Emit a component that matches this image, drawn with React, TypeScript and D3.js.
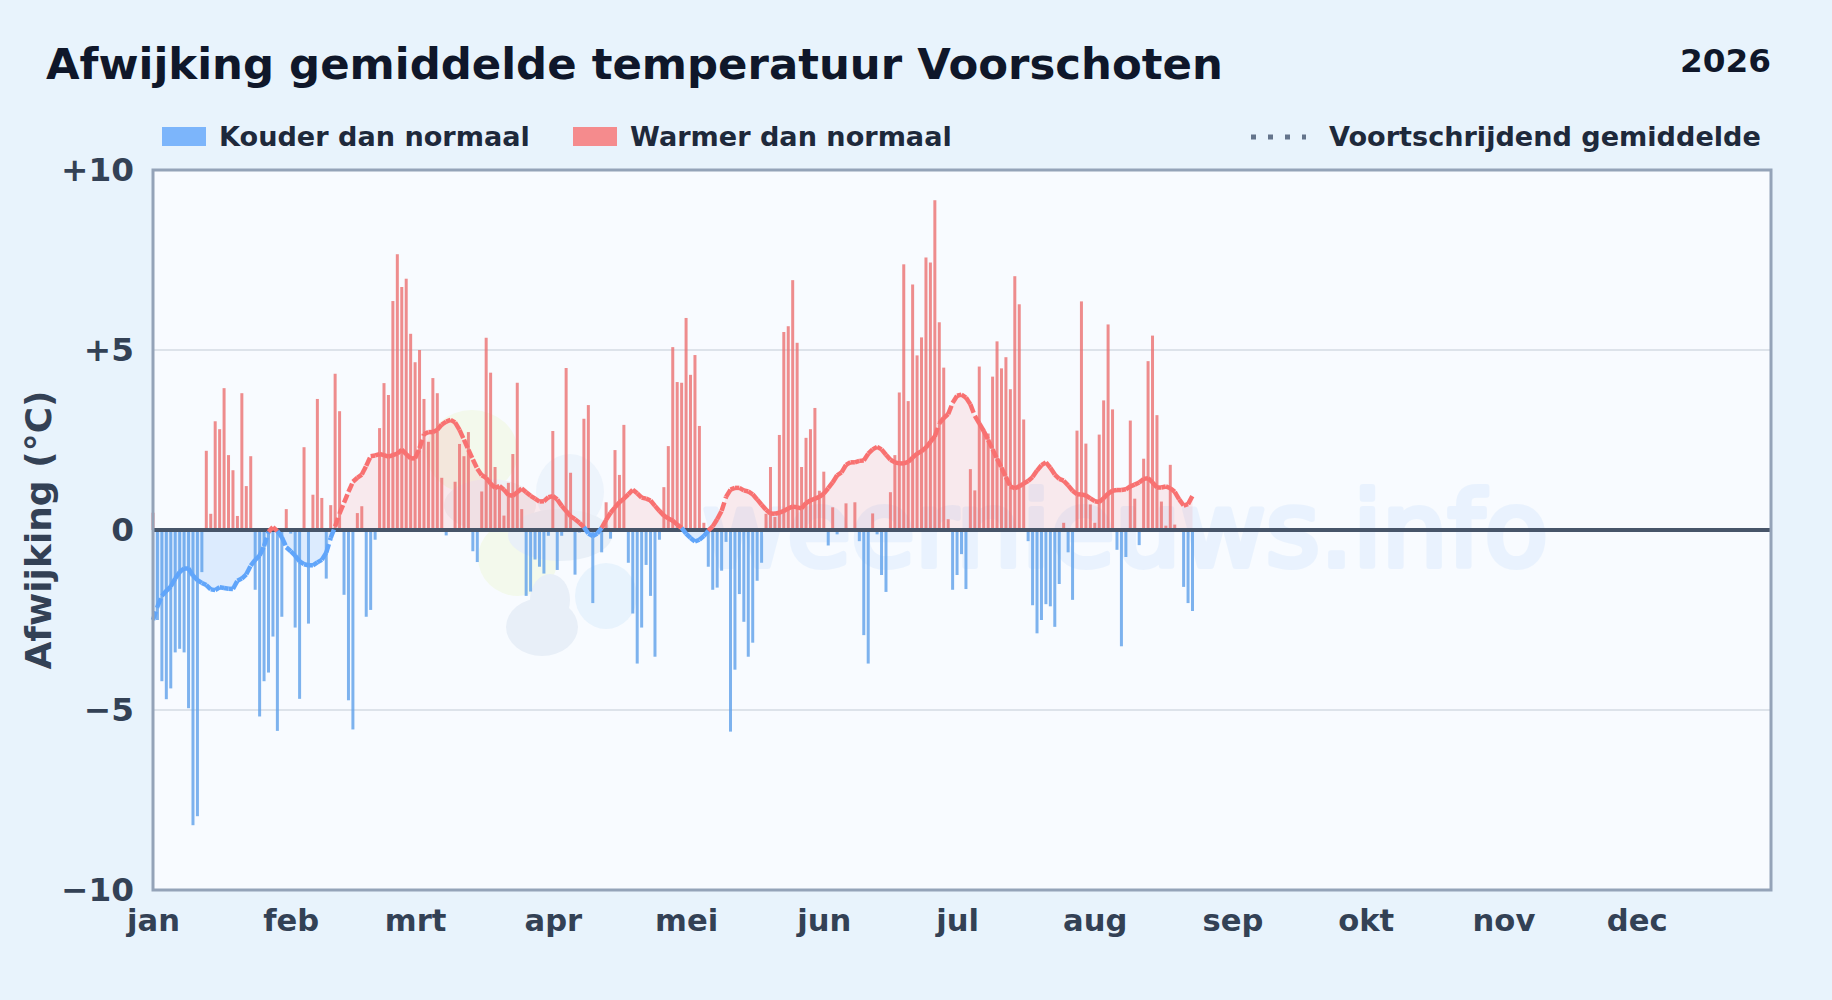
import React, { useEffect, useRef } from "react";
import * as d3 from "d3";

const monthLabels = ["jan", "feb", "mrt", "apr", "mei", "jun", "jul", "aug", "sep", "okt", "nov", "dec"];
const monthStarts = [0, 31, 59, 90, 120, 151, 181, 212, 243, 273, 304, 334];
const yTicks = [-10, -5, 0, 5, 10];

// daily anomaly in degrees, one value per day from 1 jan (0 = no bar)
const dailyAnomaly = [
  0.48, -2.5, -4.2, -4.7, -4.4, -3.4, -3.3, -3.4, -4.95, -8.2,
  -7.95, -1.17, 2.2, 0.45, 3.02, 2.8, 3.94, 2.08, 1.66, 0.39,
  3.8, 1.22, 2.05, -1.66, -5.18, -4.2, -3.96, -2.96, -5.58, -2.41,
  0.58, -0.1, -2.71, -4.69, 2.3, -2.6, 0.98, 3.64, 0.89, -1.35,
  0.69, 4.34, 3.3, -1.8, -4.73, -5.54, 0.47, 0.66, -2.41, -2.22,
  -0.27, 2.83, 4.08, 3.75, 6.36, 7.66, 6.75, 6.98, 5.45, 4.66,
  5.0, 3.64, 2.45, 4.22, 3.8, 1.45, -0.15, 0, 1.34, 2.39,
  2.05, 2.72, -0.59, -0.89, 1.07, 5.34, 4.37, 1.75, 1.22, 0.4,
  1.31, 2.11, 4.09, 0.58, -1.83, -1.71, -0.82, -1.02, -1.21, -0.16,
  2.75, -1.11, -0.16, 4.5, 1.59, -1.24, -0.07, 3.09, 3.47, -2.03,
  0, -0.62, 0.77, -0.24, 2.22, 1.53, 2.92, -0.91, -2.32, -3.71,
  -2.71, -0.97, -1.83, -3.52, -0.27, 1.19, 2.33, 5.08, 4.11, 4.09,
  5.89, 4.31, 4.86, 2.89, 0.2, -1.02, -1.66, -1.6, -1.13, -0.33,
  -5.6, -3.88, -1.78, -2.55, -3.52, -3.13, -1.41, -0.91, 0.45, 1.75,
  0.36, 2.64, 5.5, 5.66, 6.94, 5.2, 1.75, 2.56, 2.8, 3.39,
  1.09, 1.62, -0.43, 0.63, -0.12, 0, 0.74, 0, 0.77, -0.31,
  -2.92, -3.71, 0.46, -0.12, -1.25, -1.72, 1.05, 2.08, 3.82, 7.38,
  3.58, 6.82, 4.85, 5.35, 7.57, 7.43, 9.16, 5.77, 4.51, 0.3,
  -1.66, -1.25, -0.67, -1.64, 1.69, 1.1, 4.54, 2.81, 2.68, 4.26,
  5.24, 4.49, 4.8, 3.91, 7.05, 6.27, 3.07, -0.31, -2.09, -2.87,
  -2.5, -2.06, -2.12, -2.69, -1.5, 0.2, -0.62, -1.94, 2.76, 6.35,
  2.4, 0.71, 0.2, 2.65, 3.6, 5.71, 3.35, -0.55, -3.23, -0.75,
  3.04, 0.87, -0.42, 1.98, 4.69, 5.4, 3.19, 0.79, 0.12, 1.81,
  0.15, 0, -1.58, -2.03, -2.25,
];

// rolling mean, same days as dailyAnomaly
const rollingMean = [
  -2.5, -2.13, -1.83, -1.69, -1.57, -1.35, -1.17, -1.07, -1.07, -1.27,
  -1.39, -1.47, -1.53, -1.65, -1.67, -1.59, -1.61, -1.63, -1.64, -1.41,
  -1.35, -1.23, -0.99, -0.83, -0.71, -0.45, -0.05, 0.08, -0.03, -0.2,
  -0.48, -0.59, -0.71, -0.87, -0.95, -0.98, -0.98, -0.9, -0.83, -0.63,
  -0.22, 0.1, 0.46, 0.76, 1.06, 1.34, 1.45, 1.54, 1.78, 2.05,
  2.07, 2.11, 2.08, 2.04, 2.08, 2.12, 2.23, 2.11, 1.99, 1.99,
  2.27, 2.66, 2.72, 2.72, 2.78, 2.93, 3.01, 3.06, 2.99, 2.78,
  2.51, 2.23, 1.96, 1.7, 1.52, 1.45, 1.29, 1.17, 1.22, 1.12,
  0.97, 0.95, 1.05, 1.15, 1.05, 0.95, 0.87, 0.79, 0.8, 0.91,
  0.94, 0.85, 0.67, 0.53, 0.38, 0.3, 0.2, 0.08, -0.1, -0.17,
  -0.1, 0.06, 0.28, 0.48, 0.63, 0.77, 0.87, 0.99, 1.12, 1.02,
  0.9, 0.87, 0.82, 0.67, 0.53, 0.4, 0.32, 0.26, 0.15, 0.06,
  -0.1, -0.22, -0.32, -0.27, -0.17, -0.02, 0.1, 0.3, 0.53, 0.92,
  1.12, 1.17, 1.17, 1.1, 1.07, 0.99, 0.85, 0.7, 0.56, 0.46,
  0.45, 0.48, 0.53, 0.6, 0.65, 0.63, 0.6, 0.75, 0.82, 0.87,
  0.92, 1.01, 1.16, 1.32, 1.52, 1.6, 1.81, 1.88, 1.88, 1.92,
  1.93, 2.12, 2.24, 2.31, 2.24, 2.09, 1.95, 1.88, 1.85, 1.85,
  1.89, 2.01, 2.12, 2.19, 2.29, 2.45, 2.6, 2.96, 3.11, 3.22,
  3.53, 3.73, 3.76, 3.68, 3.49, 3.17, 2.96, 2.75, 2.5, 2.24,
  1.98, 1.73, 1.47, 1.21, 1.16, 1.21, 1.29, 1.36, 1.47, 1.65,
  1.8, 1.88, 1.73, 1.54, 1.42, 1.37, 1.24, 1.09, 0.99, 0.99,
  0.96, 0.88, 0.8, 0.78, 0.88, 1.01, 1.09, 1.11, 1.11, 1.13,
  1.21, 1.26, 1.32, 1.42, 1.44, 1.32, 1.18, 1.18, 1.21, 1.16,
  1.06, 0.85, 0.68, 0.72, 0.95,
];

const W = 1832;
const H = 1000;
const plot = { left: 153, right: 1770, top: 170, bottom: 890 };
const COLD = "#60a5fa";
const WARM = "#f87171";
const FONT = "'DejaVu Sans', sans-serif";

export default function App() {
  const svgRef = useRef<SVGSVGElement>(null);

  useEffect(() => {
    if (!svgRef.current) return;
    const svg = d3.select(svgRef.current);
    svg.selectAll("*").remove();

    const xScale = d3.scaleLinear().domain([0, 364]).range([plot.left, plot.right]);
    const yScale = d3.scaleLinear().domain([-10, 10]).range([plot.bottom, plot.top]);

    // background
    svg.append("rect").attr("width", W).attr("height", H).attr("fill", "#e8f3fc");
    svg.append("rect")
      .attr("x", plot.left).attr("y", plot.top)
      .attr("width", plot.right + 1 - plot.left).attr("height", plot.bottom - plot.top)
      .attr("fill", "#f8fbff");

    // watermark logo + text
    const wm = svg.append("g");
    const blobs: [number, number, number, number, string][] = [
      [472, 452, 46, 42, "#f3f9ec"],
      [518, 558, 40, 38, "#f3f9ec"],
      [570, 492, 34, 38, "#edf4fc"],
      [490, 505, 46, 26, "#eff0f5"],
      [560, 535, 52, 26, "#e9f0f8"],
      [550, 600, 20, 26, "#e8eff8"],
      [542, 627, 36, 29, "#e8eff8"],
      [606, 596, 31, 33, "#e8f3fd"],
    ];
    blobs.forEach(([cx, cy, rx, ry, fill]) => {
      wm.append("ellipse")
        .attr("cx", cx).attr("cy", cy).attr("rx", rx).attr("ry", ry)
        .attr("fill", fill);
    });
    wm.append("text")
      .attr("x", 702).attr("y", 566)
      .attr("font-family", FONT).attr("font-size", 104)
      .attr("fill", "#60a5fa").attr("stroke", "#60a5fa").attr("stroke-width", 6)
      .attr("stroke-linejoin", "round")
      .attr("opacity", 0.09)
      .text("weernieuws.info");

    // grid
    svg.append("g").selectAll("line")
      .data(yTicks.filter(t => Math.abs(t) === 5))
      .join("line")
      .attr("x1", plot.left).attr("x2", plot.right)
      .attr("y1", d => yScale(d)).attr("y2", d => yScale(d))
      .attr("stroke", "#dde3ea").attr("stroke-width", 2);

    // area under the rolling mean
    const days = rollingMean.map((v, i) => ({ i, v }));
    const warmArea = d3.area<{ i: number; v: number }>()
      .x(d => xScale(d.i)).y0(yScale(0)).y1(d => yScale(Math.max(d.v, 0)));
    const coldArea = d3.area<{ i: number; v: number }>()
      .x(d => xScale(d.i)).y0(yScale(0)).y1(d => yScale(Math.min(d.v, 0)));
    svg.append("path").datum(days).attr("fill", WARM).attr("fill-opacity", 0.13).attr("d", warmArea);
    svg.append("path").datum(days).attr("fill", COLD).attr("fill-opacity", 0.18).attr("d", coldArea);

    // daily bars
    svg.append("g").selectAll("rect")
      .data(dailyAnomaly.map((v, i) => ({ i, v })).filter(d => d.v !== 0))
      .join("rect")
      .attr("x", d => xScale(d.i) - 1.5)
      .attr("width", 3)
      .attr("y", d => yScale(Math.max(d.v, 0)))
      .attr("height", d => Math.abs(yScale(d.v) - yScale(0)))
      .attr("fill", d => (d.v > 0 ? "#eb7070" : "#5ea0ea"))
      .attr("opacity", 0.8);

    // zero line
    svg.append("line")
      .attr("x1", plot.left).attr("x2", plot.right + 1)
      .attr("y1", yScale(0)).attr("y2", yScale(0))
      .attr("stroke", "#475569").attr("stroke-width", 4);

    // rolling mean, every day its own dashed piece so the steep stretches break up
    const segLine = d3.line<{ i: number; v: number }>().x(d => xScale(d.i)).y(d => yScale(d.v));
    svg.append("g").selectAll("path")
      .data(d3.pairs(days))
      .join("path")
      .attr("d", d => segLine(d))
      .attr("fill", "none")
      .attr("stroke", d => (d[0].v + d[1].v >= 0 ? WARM : COLD))
      .attr("stroke-width", 4.5)
      .attr("stroke-dasharray", "9,4");

    // frame
    svg.append("rect")
      .attr("x", plot.left).attr("y", plot.top)
      .attr("width", plot.right + 1 - plot.left).attr("height", plot.bottom - plot.top)
      .attr("fill", "none").attr("stroke", "#94a3b8").attr("stroke-width", 3);

    // axes
    const yAxis = d3.axisLeft(yScale)
      .tickValues(yTicks)
      .tickSize(0)
      .tickPadding(19)
      .tickFormat(d => (Number(d) > 0 ? `+${d}` : Number(d) < 0 ? `\u2212${Math.abs(Number(d))}` : "0"));
    const yG = svg.append("g").attr("transform", `translate(${plot.left},0)`).call(yAxis);
    yG.select(".domain").remove();
    yG.selectAll("text")
      .attr("font-family", FONT).attr("font-weight", 700)
      .attr("font-size", 32.7).attr("fill", "#334155");

    const xAxis = d3.axisBottom(xScale)
      .tickValues(monthStarts)
      .tickSize(0)
      .tickPadding(0)
      .tickFormat((_, i) => monthLabels[i]);
    const xG = svg.append("g").attr("transform", `translate(0,${plot.bottom})`).call(xAxis);
    xG.select(".domain").remove();
    xG.selectAll("text")
      .attr("y", 41).attr("dy", 0)
      .attr("font-family", FONT).attr("font-weight", 700)
      .attr("font-size", 30.6).attr("fill", "#334155");

    svg.append("text")
      .attr("transform", `translate(51,530) rotate(-90)`)
      .attr("text-anchor", "middle")
      .attr("font-family", FONT).attr("font-weight", 700)
      .attr("font-size", 36).attr("fill", "#334155")
      .text("Afwijking (\u00b0C)");

    // title
    svg.append("text")
      .attr("x", 46).attr("y", 79)
      .attr("font-family", FONT).attr("font-weight", 700)
      .attr("font-size", 43.4).attr("fill", "#0f172a")
      .text("Afwijking gemiddelde temperatuur Voorschoten");
    svg.append("text")
      .attr("x", 1771).attr("y", 72).attr("text-anchor", "end")
      .attr("font-family", FONT).attr("font-weight", 700)
      .attr("font-size", 32.7).attr("fill", "#0f172a")
      .text("2026");

    // legend
    const legendText = (x: number, label: string) =>
      svg.append("text")
        .attr("x", x).attr("y", 146)
        .attr("font-family", FONT).attr("font-weight", 700)
        .attr("font-size", 27.1).attr("fill", "#1e293b")
        .text(label);
    svg.append("rect").attr("x", 162).attr("y", 127).attr("width", 44).attr("height", 19)
      .attr("fill", COLD).attr("opacity", 0.8);
    legendText(219, "Kouder dan normaal");
    svg.append("rect").attr("x", 573).attr("y", 127).attr("width", 44).attr("height", 19)
      .attr("fill", WARM).attr("opacity", 0.8);
    legendText(630, "Warmer dan normaal");
    svg.append("line")
      .attr("x1", 1251).attr("x2", 1306).attr("y1", 137).attr("y2", 137)
      .attr("stroke", "#64748b").attr("stroke-width", 5)
      .attr("stroke-dasharray", "5,12");
    legendText(1329, "Voortschrijdend gemiddelde");
  }, []);

  return (
    <svg
      ref={svgRef}
      width={W}
      height={H}
      viewBox={`0 0 ${W} ${H}`}
      style={{ position: "absolute", top: 0, left: 0, display: "block" }}
    />
  );
}
